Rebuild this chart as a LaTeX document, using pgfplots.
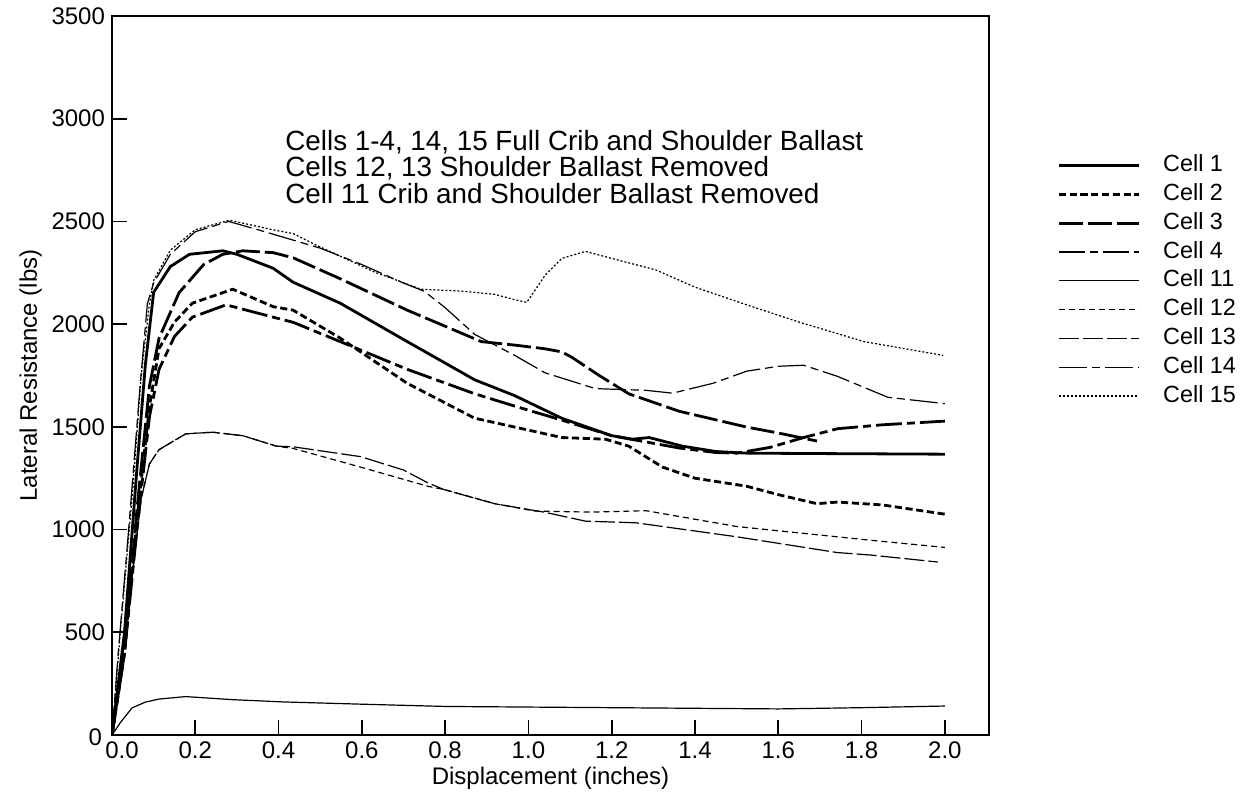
\documentclass[border=0pt]{standalone}
\usepackage{pgfplots}
\pgfplotsset{compat=1.18}
\usepackage{fontspec}
\setmainfont{Liberation Sans}
\begin{document}
\begin{tikzpicture}
\useasboundingbox (-56pt,-29.5pt) rectangle (568pt,367.5pt);
\begin{axis}[
  scale only axis, width=438.5pt, height=359.5pt,
  xmin=0, xmax=2.106, ymin=0, ymax=3500,
  axis line style={line width=1.2pt},
  tick style={line width=0.9pt, black},
  tick align=inside, major tick length=7.5pt,
  xtick={0.2,0.4,0.6,0.8,1.0,1.2,1.4,1.6,1.8,2.0},
  ytick={500,1000,1500,2000,2500,3000,3500},
  extra x ticks={0}, extra y ticks={0},
  extra x tick style={xticklabel style={xshift=5pt}},
  extra y tick style={yticklabel style={xshift=-1.5pt, yshift=-1pt}},
  xtick pos=lower, ytick pos=left,
  xticklabel style={/pgf/number format/fixed, /pgf/number format/fixed zerofill, /pgf/number format/precision=1},
  yticklabel style={/pgf/number format/1000 sep={}},
  /pgf/number format/assume math mode=true,
  tick label style={font=\fontsize{12}{14}\selectfont},
  label style={font=\fontsize{12}{14}\selectfont},
  xlabel={Displacement (inches)}, ylabel={Lateral Resistance (lbs)},
  xlabel style={yshift=3pt}, ylabel style={yshift=-2pt},
  legend style={at={(axis description cs:1.0775,0.812)}, anchor=north west,
    draw=none, fill=none, inner sep=0pt, column sep=10pt, row sep=0.3pt,
    font=\fontsize{11.7}{14}\selectfont,
    nodes={inner sep=1.5pt, text height=8.6pt, text depth=2.5pt}},
  legend cell align=left,
  legend image code/.code={\draw[#1] (0pt,0pt) -- (40pt,0pt);},
  every axis plot/.append style={line cap=butt, line join=round},
]
% Cell 1
\addplot[black, line width=1.4pt] coordinates {
(0,0) (0.03,500) (0.06,1300) (0.08,1800) (0.1,2155) (0.14,2280) (0.186,2340) (0.266,2357) (0.3,2340) (0.387,2272) (0.435,2204) (0.548,2102) (0.709,1915) (0.871,1729) (0.967,1652) (1.08,1542) (1.2,1457) (1.25,1440) (1.29,1448) (1.37,1406) (1.45,1380) (1.524,1372) (1.7,1370) (2.0,1367)};
\addlegendentry{Cell 1}
% Cell 2
\addplot[black, line width=1.4pt, dash pattern=on 3.6pt off 1.8pt] coordinates {
(0,0) (0.03,400) (0.06,1050) (0.09,1600) (0.113,1881) (0.15,2010) (0.193,2102) (0.29,2170) (0.387,2085) (0.435,2068) (0.548,1932) (0.709,1712) (0.871,1542) (0.967,1499) (1.08,1448) (1.185,1440) (1.241,1406) (1.322,1304) (1.4,1250) (1.524,1211) (1.6,1170) (1.693,1126) (1.742,1134) (1.85,1120) (2.0,1075)};
\addlegendentry{Cell 2}
% Cell 3
\addplot[black, line width=1.4pt, dash pattern=on 12pt off 2.5pt] coordinates {
(0,0) (0.03,400) (0.06,1100) (0.09,1700) (0.113,1932) (0.161,2153) (0.22,2290) (0.266,2340) (0.314,2357) (0.387,2348) (0.435,2323) (0.548,2221) (0.709,2068) (0.887,1915) (0.967,1898) (1.04,1880) (1.08,1865) (1.104,1839) (1.17,1750) (1.241,1661) (1.362,1576) (1.524,1499) (1.6,1470) (1.693,1431)};
\addlegendentry{Cell 3}
% Cell 4
\addplot[black, line width=1.4pt, dash pattern=on 13pt off 2.5pt on 4pt off 2.5pt] coordinates {
(0,0) (0.03,400) (0.06,1000) (0.09,1550) (0.113,1780) (0.15,1940) (0.193,2034) (0.274,2094) (0.387,2034) (0.435,2009) (0.548,1915) (0.709,1780) (0.871,1661) (0.967,1601) (1.08,1533) (1.2,1457) (1.362,1397) (1.45,1375) (1.5,1372) (1.58,1400) (1.661,1448) (1.742,1491) (1.85,1510) (2.0,1528)};
\addlegendentry{Cell 4}
% Cell 11
\addplot[black, line width=0.6pt] coordinates {
(0,0) (0.02,60) (0.048,132) (0.08,160) (0.113,175) (0.177,187) (0.29,172) (0.411,161) (0.6,150) (0.8,139) (1.0,136) (1.2,133) (1.4,130) (1.6,127) (1.8,133) (2.0,141)};
\addlegendentry{Cell 11}
% Cell 12
\addplot[black, line width=0.6pt, dash pattern=on 3pt off 2pt] coordinates {
(0,0) (0.02,300) (0.05,800) (0.07,1150) (0.09,1320) (0.113,1389) (0.177,1466) (0.242,1474) (0.314,1457) (0.395,1406) (0.435,1395) (0.597,1304) (0.758,1211) (0.8,1194) (0.919,1126) (1.016,1090) (1.15,1085) (1.282,1092) (1.5,1015) (1.822,948) (2.0,913)};
\addlegendentry{Cell 12}
% Cell 13
\addplot[black, line width=0.6pt, dash pattern=on 10pt off 2pt] coordinates {
(0,0) (0.02,300) (0.05,800) (0.07,1150) (0.09,1320) (0.113,1389) (0.177,1466) (0.242,1474) (0.314,1457) (0.395,1406) (0.435,1403) (0.597,1355) (0.7,1290) (0.758,1228) (0.798,1194) (0.919,1126) (1.04,1084) (1.137,1041) (1.258,1033) (1.5,965) (1.742,888) (1.822,876) (1.983,842)};
\addlegendentry{Cell 13}
% Cell 14
\addplot[black, line width=0.6pt, dash pattern=on 14pt off 2.5pt on 4pt off 2.5pt] coordinates {
(0,0) (0.015,400) (0.04,1000) (0.068,1712) (0.085,2100) (0.1,2200) (0.14,2340) (0.2,2450) (0.28,2500) (0.35,2460) (0.4,2430) (0.5,2370) (0.6,2290) (0.7,2200) (0.75,2160) (0.8,2080) (0.871,1950) (0.967,1848) (1.04,1763) (1.161,1686) (1.282,1678) (1.346,1664) (1.443,1712) (1.524,1771) (1.6,1795) (1.661,1800) (1.742,1746) (1.863,1644) (2.0,1613)};
\addlegendentry{Cell 14}
% Cell 15
\addplot[black, line width=0.6pt, dash pattern=on 1pt off 1pt] coordinates {
(0,0) (0.02,500) (0.05,1200) (0.07,1750) (0.09,2100) (0.1,2213) (0.14,2360) (0.2,2460) (0.282,2506) (0.387,2459) (0.435,2441) (0.484,2391) (0.629,2255) (0.742,2170) (0.839,2161) (0.919,2145) (0.967,2119) (0.996,2106) (1.04,2238) (1.08,2320) (1.137,2354) (1.2,2320) (1.306,2264) (1.4,2180) (1.524,2094) (1.65,2010) (1.806,1915) (1.996,1848)};
\addlegendentry{Cell 15}
\node[anchor=north west, align=left, inner sep=0pt, font=\fontsize{13.9}{13.4}\selectfont] at (axis cs:0.4154,2947) {Cells 1-4, 14, 15 Full Crib and Shoulder Ballast\\Cells 12, 13 Shoulder Ballast Removed\\Cell 11 Crib and Shoulder Ballast Removed};
\end{axis}
\end{tikzpicture}
\end{document}
